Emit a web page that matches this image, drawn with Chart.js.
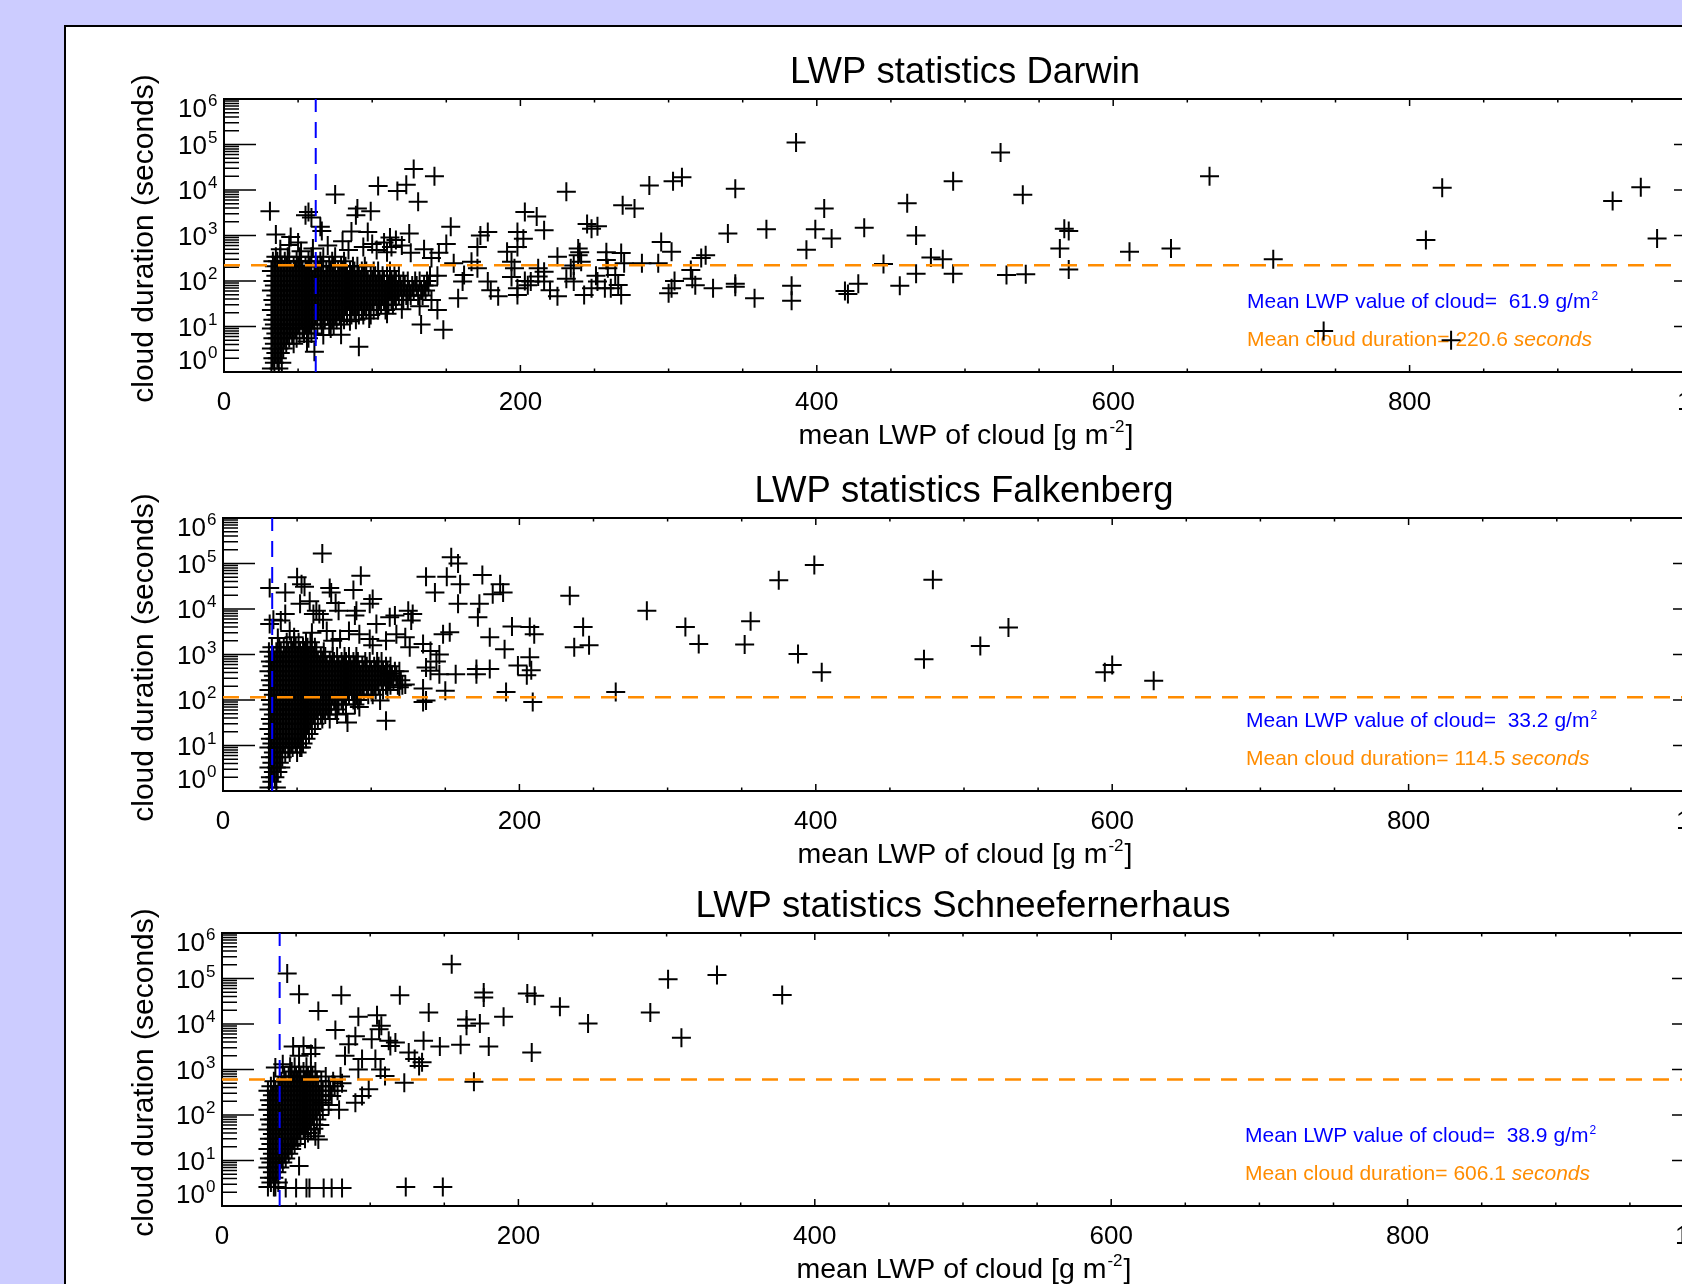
<!DOCTYPE html>
<html lang="en">
<head>
<meta charset="UTF-8">
<title>LWP statistics</title>
<script src="https://cdn.jsdelivr.net/npm/chart.js"></script>
<style>
  html, body { margin: 0; padding: 0; overflow: hidden; background: #ccccff; }
  body { width: 1682px; height: 1284px; position: relative; }
  #panel { position: absolute; left: 64px; top: 25px; width: 1800px; height: 1400px;
           background: #fff; border: 2px solid #000; box-sizing: border-box; }
  canvas { position: absolute; left: 0; }
</style>
</head>
<body>
<div id="panel"></div>
<canvas id="chart0" width="1800" height="480" style="top:0px"></canvas>
<canvas id="chart1" width="1800" height="480" style="top:419px"></canvas>
<canvas id="chart2" width="1800" height="480" style="top:834px"></canvas>

<script>
// station names and the means written in each panel
const stations = ['Darwin', 'Falkenberg', 'Schneefernerhaus'];
const meanLwp = [61.9, 33.2, 38.9];
const meanDuration = [220.6, 114.5, 606.1];

const lwpTicks = [0, 200, 400, 600, 800, 1000];
const durationExponents = [0, 1, 2, 3, 4, 5, 6];

// clouds: [mean LWP, durations in seconds read at that LWP] for the solid black cores
const darwinCore = [
  [32, [1.2, 3.3, 9, 23, 62, 165]], [33, [2, 5.5, 14, 38, 100, 270]],
  [34, [1.6, 4.2, 11, 30, 80, 210]], [35, [2.6, 7, 18, 48, 130, 340]],
  [36, [2, 5.5, 14, 38, 100, 270]], [37, [1.2, 3.3, 9, 23, 62, 165]],
  [38, [2.6, 7, 18, 48, 130, 340]], [39, [1.6, 4.2, 11, 30, 80, 210]],
  [40, [3.3, 9, 23, 62, 165]], [41, [5.5, 14, 38, 100, 270]],
  [42, [4.2, 11, 30, 80, 210]], [43, [7, 18, 48, 130, 340]],
  [44, [5.5, 14, 38, 100, 270]], [45, [9, 23, 62, 165]],
  [46, [7, 18, 48, 130]], [47, [4.2, 11, 30, 80, 210]],
  [48, [9, 23, 62, 165]], [49, [5.5, 14, 38, 100, 270]],
  [50, [11, 30, 80, 210]], [51, [7, 18, 48, 130, 340]],
  [52, [14, 38, 100, 270]], [53, [9, 23, 62, 165]],
  [54, [7, 18, 48, 130]], [55, [11, 30, 80, 210]],
  [56, [9, 23, 62, 165]], [57, [5.5, 14, 38, 100, 270]],
  [58, [11, 30, 80, 210]], [59, [7, 18, 48, 130, 340]],
  [60, [14, 38, 100]], [61, [9, 23, 62, 165]],
  [62, [18, 48, 130]], [63, [11, 30, 80, 210]],
  [64, [23, 62, 165]], [65, [14, 38, 100, 270]],
  [66, [11, 30, 80, 210]], [67, [18, 48, 130, 340]],
  [68, [14, 38, 100]], [69, [23, 62, 165]],
  [70, [18, 48, 130]], [71, [11, 30, 80, 210]],
  [72, [23, 62, 165]], [73, [14, 38, 100, 270]],
  [74, [30, 80, 210]], [75, [18, 48, 130, 340]],
  [76, [14, 38, 100]], [77, [23, 62, 165]],
  [78, [18, 48, 130]], [79, [11, 30, 80, 210]],
  [80, [23, 62, 165]], [81, [14, 38, 100, 270]],
  [82, [30, 80, 210]], [83, [18, 48, 130]],
  [84, [38, 100]], [85, [23, 62, 165]],
  [86, [18, 48, 130]], [87, [30, 80, 210]],
  [88, [23, 62, 165]], [89, [14, 38, 100]],
  [90, [30, 80, 210]], [91, [18, 48, 130]],
  [92, [38, 100]], [93, [23, 62, 165]],
  [94, [18, 48, 130]], [95, [30, 80, 210]],
  [96, [23, 62, 165]], [97, [38, 100]],
  [98, [30, 80]], [99, [18, 48, 130]],
  [100, [38, 100]], [101, [23, 62, 165]],
  [102, [48, 130]], [103, [30, 80]],
  [104, [23, 62, 165]], [105, [38, 100]],
  [106, [30, 80]], [107, [48, 130]],
  [108, [38, 100]], [109, [23, 62]],
  [110, [48, 130]], [111, [30, 80]],
  [112, [62, 165]], [113, [38, 100]],
  [114, [30, 80]], [115, [48, 130]],
  [116, [38, 100]], [117, [62]],
  [118, [48, 130]], [119, [80]],
  [120, [62]], [121, [38, 100]],
  [122, [80]], [123, [48]],
  [124, [38, 100]], [125, [62]],
  [126, [48]], [127, [80]],
  [128, [62]], [129, [100]],
  [130, [80]], [131, [48]],
  [132, [100]], [133, [62]],
  [134, [48]], [135, [80]],
  [136, [62]], [137, [100]],
  [138, [80]], [139, [130]],
  [140, [38]], [144, [130]]
];
// clouds: [mean LWP, duration in seconds] for the separate crosses
const darwinSpread = [
  [31, 3400], [55, 2800], [57, 3300], [59, 2500], [65, 1550], [66, 1250], [75, 8000], [104, 12300],
  [117, 9500], [123, 13000], [128, 29000], [142, 20000], [131, 5500], [90, 3900], [99, 3400], [89, 2800],
  [86, 1230], [35, 1050], [45, 930], [125, 1100], [153, 1550], [97, 1200], [108, 700], [113, 560],
  [110, 430], [116, 800], [112, 900], [140, 320], [155, 245], [173, 1000], [178, 1200], [171, 560],
  [198, 1200], [203, 3300], [211, 2600], [198, 560], [202, 850], [216, 1300], [231, 9100], [245, 1800],
  [248, 1400], [252, 1600], [269, 4600], [277, 3900], [287, 12600], [303, 15500], [309, 19000], [295, 720],
  [302, 440], [268, 410], [225, 340], [239, 370], [258, 290], [282, 245], [293, 245], [315, 175],
  [318, 81], [322, 320], [302, 69], [300, 54], [268, 49], [261, 69], [257, 69], [264, 135],
  [243, 49], [248, 69], [225, 46], [220, 63], [216, 160], [212, 125], [198, 49], [205, 81],
  [203, 100], [185, 46], [180, 63], [194, 123], [158, 42], [161, 98], [148, 8.5], [133, 11],
  [144, 23], [91, 3.6], [79, 6.6], [72, 9], [61, 2.8], [167, 265], [171, 190], [162, 135],
  [178, 97], [191, 440], [194, 265], [196, 190], [207, 97], [212, 190], [216, 97], [198, 69],
  [234, 190], [236, 97], [241, 265], [252, 97], [259, 190], [266, 82], [270, 245], [239, 520],
  [70, 600], [80, 750], [84, 480], [94, 560], [100, 650], [103, 480], [120, 600], [126, 420],
  [135, 500], [145, 420], [150, 650], [38, 500], [44, 620], [50, 700], [60, 520], [52, 450],
  [56, 4.7], [67, 6.5], [74, 11], [85, 13], [98, 15], [110, 19], [120, 24], [132, 28],
  [325, 370], [316, 112], [330, 69], [345, 87], [345, 75], [358, 42], [383, 79], [383, 37],
  [419, 60], [421, 52], [428, 87], [456, 79], [467, 145], [477, 330], [485, 300], [492, 145],
  [445, 235], [528, 135], [541, 140], [564, 520], [567, 1400], [570, 1260], [570, 180], [231, 112],
  [251, 130], [258, 430], [240, 430], [236, 220], [304, 100], [366, 1380], [340, 1100], [345, 10600],
  [386, 110000], [524, 67000], [492, 15500], [539, 7900], [461, 5100], [405, 3900], [432, 1480], [399, 1380],
  [410, 860], [467, 1000], [393, 485], [611, 437], [639, 520], [665, 20000], [708, 302], [742, 8],
  [811, 800], [822, 11200], [828, 5], [937, 5700], [956, 11500], [967, 860]
];

const falkenbergCore = [
  [31, [1.2, 3.3, 9, 23, 62, 165, 430, 1150]], [32, [2, 5.5, 14, 38, 100, 270, 700]],
  [33, [1.6, 4.2, 11, 30, 80, 210, 550, 1450]], [34, [2.6, 7, 18, 48, 130, 340, 900]],
  [35, [2, 5.5, 14, 38, 100, 270, 700]], [36, [1.2, 3.3, 9, 23, 62, 165, 430, 1150]],
  [37, [2.6, 7, 18, 48, 130, 340, 900]], [38, [4.2, 11, 30, 80, 210, 550, 1450]],
  [39, [3.3, 9, 23, 62, 165, 430, 1150]], [40, [5.5, 14, 38, 100, 270, 700]],
  [41, [11, 30, 80, 210, 550, 1450]], [42, [7, 18, 48, 130, 340, 900]],
  [43, [14, 38, 100, 270, 700, 1850]], [44, [9, 23, 62, 165, 430, 1150]],
  [45, [7, 18, 48, 130, 340, 900]], [46, [11, 30, 80, 210, 550, 1450]],
  [47, [9, 23, 62, 165, 430, 1150]], [48, [14, 38, 100, 270, 700, 1850]],
  [49, [11, 30, 80, 210, 550, 1450]], [50, [7, 18, 48, 130, 340, 900]],
  [51, [14, 38, 100, 270, 700, 1850]], [52, [9, 23, 62, 165, 430, 1150]],
  [53, [9, 18, 48, 130, 340, 900]], [54, [11, 30, 80, 210, 550, 1450]],
  [55, [23, 62, 165, 430, 1150]], [56, [14, 38, 100, 270, 700, 1850]],
  [57, [30, 80, 210, 550, 1450]], [58, [18, 48, 130, 340, 900]],
  [59, [38, 100, 270, 700, 1850]], [60, [23, 62, 165, 430, 1150]],
  [61, [48, 130, 340, 900]], [62, [30, 80, 210, 550, 1450]],
  [63, [62, 165, 430, 1150]], [64, [38, 100, 270, 700]],
  [65, [80, 210, 550]], [66, [48, 130, 340, 900]],
  [67, [38, 100, 270, 700]], [68, [62, 165, 430, 1150]],
  [69, [48, 130, 340, 900]], [70, [80, 210, 550]],
  [71, [62, 165, 430]], [72, [38, 100, 270, 700]],
  [73, [80, 210, 550]], [74, [130, 340, 900]],
  [75, [100, 270, 700]], [76, [62, 165, 430]],
  [77, [48, 130, 340, 900]], [78, [80, 210, 550]],
  [79, [165, 430]], [80, [100, 270, 700]],
  [81, [80, 210, 550]], [82, [130, 340, 900]],
  [83, [100, 270, 700]], [84, [165, 430]],
  [85, [130, 340, 900]], [86, [210, 550]],
  [87, [165, 430]], [88, [100, 270, 700]],
  [89, [80, 210, 550]], [90, [130, 340, 900]],
  [91, [100, 270, 700]], [92, [165, 430]],
  [93, [130, 340]], [94, [210, 550]],
  [95, [165, 430]], [96, [270, 700]],
  [97, [210, 550]], [98, [130, 340]],
  [99, [270, 700]], [100, [165, 430]],
  [101, [130, 340]], [102, [210, 550]],
  [103, [165, 430]], [104, [270, 700]],
  [105, [210, 550]], [106, [340]],
  [107, [270, 700]], [108, [165, 430]],
  [109, [340]], [110, [210, 550]],
  [111, [165, 430]], [112, [270]],
  [113, [210, 550]], [114, [340]],
  [115, [270]], [116, [430]],
  [117, [340]], [118, [210]],
  [119, [430]], [120, [270]], [121, [210]]
];
const falkenbergSpread = [
  [67, 166000], [50, 50000], [53, 35000], [31.5, 29000], [42, 23000], [55, 31000], [72, 29000], [73, 23000],
  [93, 54000], [88, 26000], [101, 16600], [99, 13000], [76, 13500], [78, 9100], [58.5, 14800], [63, 9100],
  [65, 7800], [67.5, 5800], [42, 7800], [39, 5600], [34, 5800], [31.5, 4700], [90, 9100], [89, 7200],
  [92, 2800], [103.5, 4700], [112.5, 6600], [116, 7200], [125, 9100], [128, 7800], [127, 5600], [137, 51000],
  [151, 51000], [154, 138000], [158.6, 100000], [143, 23000], [160, 35000], [158.6, 13000], [175, 56000], [173, 13000],
  [172, 6600], [187, 35000], [189, 23000], [182, 21000], [234, 19500], [286, 9100], [312, 4000], [321, 1700],
  [243, 4000], [247, 1600], [237, 1450], [195, 4100], [207, 4000], [210, 2800], [190, 1300], [180, 2400],
  [207, 870], [199, 575], [205, 350], [208, 450], [171, 480], [171, 370], [180, 480], [157, 370],
  [150, 160], [146, 370], [191, 150], [209, 90], [265, 150], [135, 90], [137, 98], [135, 180],
  [110, 35], [84, 32], [117, 2800], [123, 2400], [126, 1450], [135, 1700], [140, 1200], [146, 1000],
  [148.5, 2800], [153, 3100], [144, 700], [137, 520], [140, 440], [119, 190], [123, 220], [112.5, 380],
  [106, 98], [92, 70], [83, 50], [52, 13000], [61, 7800], [74, 2000], [79, 2200], [85, 3300],
  [99, 2200], [101, 1600], [45, 3300], [48, 2400], [37, 2300], [60, 3000], [110, 2000], [70, 3300],
  [356, 5400], [352, 1660], [375, 42600], [399, 93000], [388, 1020], [404, 405], [479, 44000], [473, 790],
  [511, 1540], [530, 3900], [595, 405], [600, 590], [628, 265]
];

const schneeCore = [
  [31, [2.6, 7, 18, 48, 130, 340]], [32, [4.2, 11, 30, 80, 210]],
  [33, [3.3, 9, 23, 62, 165, 430]], [34, [5.5, 14, 38, 100, 270]],
  [35, [2.6, 4.2, 11, 30, 80, 210, 550]], [36, [2.6, 7, 18, 48, 130, 340]],
  [37, [5.5, 14, 38, 100, 270]], [38, [3.3, 9, 23, 62, 165, 430]],
  [39, [7, 18, 48, 130, 340]], [40, [11, 30, 80, 210, 550]],
  [41, [9, 23, 62, 165, 430]], [42, [14, 38, 100, 270, 700]],
  [43, [11, 30, 80, 210, 550]], [44, [18, 48, 130, 340]],
  [45, [14, 38, 100, 270, 700]], [46, [23, 62, 165, 430, 1150]],
  [47, [18, 48, 130, 340, 900]], [48, [30, 80, 210, 550]],
  [49, [23, 62, 165, 430, 1150]], [50, [38, 100, 270, 700]],
  [51, [30, 80, 210, 550]], [52, [48, 130, 340, 900]],
  [53, [38, 100, 270, 700]], [54, [62, 165, 430]],
  [55, [48, 130, 340, 900]], [56, [30, 80, 210, 550]],
  [57, [62, 165, 430, 1150]], [58, [100, 270, 700]],
  [59, [80, 210, 550]], [60, [48, 130, 340, 900]],
  [61, [100, 270, 700]], [62, [62, 165, 430]],
  [63, [130, 340, 900]], [64, [80, 210, 550]],
  [65, [165, 430]], [66, [100, 270]],
  [67, [210, 550]], [68, [130, 340]],
  [70, [270, 700]], [72, [165, 430]], [73, [340]],
  [75, [550]], [76, [430]], [78, [340]], [80, [700]]
];
const schneeSpread = [
  [44, 129000], [52, 45000], [80.5, 43000], [65, 19400], [120, 43000], [92, 14500], [104.6, 15500], [107.5, 9100],
  [76.5, 7400], [139.5, 18000], [155, 205000], [176.6, 49000], [176.6, 38000], [165, 12600], [165, 9100], [174, 10200],
  [190, 14500], [206, 47000], [211, 42000], [228, 24000], [247, 10200], [289, 17800], [301, 96000], [310, 5000],
  [209, 2350], [180, 3200], [161, 3500], [147, 3200], [136, 4300], [123, 510], [170, 535], [334, 120000],
  [378, 43600], [43, 2.5], [50, 2.5], [57, 2.5], [59, 2.5], [68.6, 2.5], [74, 2.5], [81, 2.5],
  [124, 2.6], [149, 2.6], [52, 7.6], [63, 34], [65, 29], [47, 21], [126, 2350], [130, 1700],
  [133, 1200], [135, 1450], [112.5, 4300], [113.6, 3300], [90, 5400], [85.5, 3600], [83, 2000], [94.5, 1700],
  [101, 4600], [103.5, 1700], [107, 1000], [110, 720], [106, 7700], [117, 3900], [92, 1000], [99, 370],
  [94.5, 260], [90, 185], [79, 130], [81, 500], [74, 260], [67.5, 185], [48, 3200], [55, 3300],
  [63, 3000], [60, 2200], [52, 2000], [36, 1100], [41, 1300], [58, 40], [62, 50], [66, 60]
];

const cores = [darwinCore, falkenbergCore, schneeCore];
const spreads = [darwinSpread, falkenbergSpread, schneeSpread];

const FONT = '"Liberation Sans", Arial, Helvetica, sans-serif';
const BLUE = '#0000ff';
const ORANGE = '#ff8c00';
const plotLefts = [224, 223, 222];

// IDL style frame: box, inward ticks on all sides, labels, titles, mean values
const framePlugin = {
    id: 'idlFrame',
    beforeDatasetsDraw(chart, args, opts) {
        const { ctx, chartArea: a, scales: { x, y } } = chart;
        ctx.save();
        ctx.strokeStyle = '#000';
        ctx.fillStyle = '#000';

        ctx.lineWidth = 1.5;
        ctx.beginPath();
        durationExponents.forEach(k => {
            const py = y.getPixelForValue(Math.pow(10, k));
            ctx.moveTo(a.left, py); ctx.lineTo(a.left + 32, py);
            ctx.moveTo(a.right, py); ctx.lineTo(a.right - 32, py);
            if (k < 6) {
                for (let m = 2; m <= 9; m++) {
                    const pm = y.getPixelForValue(m * Math.pow(10, k));
                    ctx.moveTo(a.left, pm); ctx.lineTo(a.left + 15, pm);
                    ctx.moveTo(a.right, pm); ctx.lineTo(a.right - 15, pm);
                }
            }
        });
        for (let v = 0; v <= 1000; v += 50) {
            const px = x.getPixelForValue(v);
            const len = v % 200 === 0 ? 7 : 3.5;
            ctx.moveTo(px, a.bottom); ctx.lineTo(px, a.bottom - len);
            ctx.moveTo(px, a.top); ctx.lineTo(px, a.top + len);
        }
        ctx.stroke();
        ctx.lineWidth = 2;
        ctx.strokeRect(a.left, a.top, a.right - a.left, a.bottom - a.top);

        // x tick labels
        ctx.font = `26px ${FONT}`;
        ctx.textAlign = 'center';
        ctx.textBaseline = 'alphabetic';
        lwpTicks.forEach(v => ctx.fillText(String(v), x.getPixelForValue(v), a.bottom + 38));

        // y tick labels 10^k
        durationExponents.forEach(k => {
            let py = y.getPixelForValue(Math.pow(10, k));
            if (k === 6) py += 9;
            if (k === 0) py -= 12;
            ctx.font = `26px ${FONT}`;
            ctx.textAlign = 'right';
            ctx.fillText('10', a.left - 17, py + 9);
            ctx.font = `17px ${FONT}`;
            ctx.textAlign = 'left';
            ctx.fillText(String(k), a.left - 16, py - 2);
        });

        const cx = (a.left + a.right) / 2;
        ctx.textAlign = 'center';
        ctx.font = `36.5px ${FONT}`;
        ctx.fillText(opts.title, cx, a.top - 16);

        // x axis title with superscript
        const part1 = 'mean LWP of cloud [g m', sup = '-2', part3 = ']';
        ctx.font = `28.5px ${FONT}`;
        const w1 = ctx.measureText(part1).width, w3 = ctx.measureText(part3).width;
        ctx.font = `17px ${FONT}`;
        const w2 = ctx.measureText(sup).width;
        let sx = cx - (w1 + w2 + w3) / 2;
        const base = a.bottom + 72;
        ctx.textAlign = 'left';
        ctx.font = `28.5px ${FONT}`;
        ctx.fillText(part1, sx, base);
        ctx.font = `17px ${FONT}`;
        ctx.fillText(sup, sx + w1 + 1, base - 12);
        ctx.font = `28.5px ${FONT}`;
        ctx.fillText(part3, sx + w1 + w2 + 2, base);

        // y axis title
        ctx.save();
        ctx.translate(153, (a.top + a.bottom) / 2 + 3);
        ctx.rotate(-Math.PI / 2);
        ctx.textAlign = 'center';
        ctx.font = `30px ${FONT}`;
        ctx.fillText('cloud duration (seconds)', 0, 0);
        ctx.restore();

        // mean values
        const ax = a.left + 1023;
        ctx.textAlign = 'left';
        ctx.font = `21px ${FONT}`;
        ctx.fillStyle = BLUE;
        const s1 = `Mean LWP value of cloud=  ${opts.lwp.toFixed(1)} g/m`;
        ctx.fillText(s1, ax, a.bottom - 64);
        const ws1 = ctx.measureText(s1).width;
        ctx.font = `12px ${FONT}`;
        ctx.fillText('2', ax + ws1 + 1, a.bottom - 72);
        ctx.fillStyle = ORANGE;
        ctx.font = `21px ${FONT}`;
        const s2 = `Mean cloud duration= ${opts.dur.toFixed(1)} `;
        ctx.fillText(s2, ax, a.bottom - 26);
        const ws2 = ctx.measureText(s2).width;
        ctx.font = `italic 21px ${FONT}`;
        ctx.fillText('seconds', ax + ws2, a.bottom - 26);

        ctx.restore();
    }
};

stations.forEach((name, i) => {
    const points = cores[i].flatMap(([lwp, durs]) => durs.map(d => ({ x: lwp, y: d })))
        .concat(spreads[i].map(([lwp, d]) => ({ x: lwp, y: d })));

    new Chart(document.getElementById('chart' + i), {
        type: 'scatter',
        data: {
            datasets: [
                {
                    type: 'line',
                    data: [{ x: meanLwp[i], y: 1 }, { x: meanLwp[i], y: 1e6 }],
                    borderColor: BLUE, borderWidth: 2, borderDash: [16, 10],
                    pointRadius: 0, order: 0, clip: 0
                },
                {
                    type: 'line',
                    data: [{ x: 0, y: meanDuration[i] }, { x: 1000, y: meanDuration[i] }],
                    borderColor: ORANGE, borderWidth: 2.5, borderDash: [16, 11],
                    pointRadius: 0, order: 0, clip: 0
                },
                {
                    data: points,
                    pointStyle: 'cross',
                    pointRadius: 9.5,
                    borderWidth: 2,
                    pointBorderWidth: 2,
                    borderColor: '#000',
                    backgroundColor: '#000',
                    order: 1,
                    clip: 0
                }
            ]
        },
        options: {
            responsive: false,
            animation: false,
            devicePixelRatio: 1,
            events: [],
            layout: { padding: { left: plotLefts[i], right: 1800 - plotLefts[i] - 1482, top: 99, bottom: 108 } },
            plugins: {
                legend: { display: false },
                tooltip: { enabled: false },
                idlFrame: { title: 'LWP statistics ' + name, lwp: meanLwp[i], dur: meanDuration[i] }
            },
            scales: {
                x: { type: 'linear', min: 0, max: 1000, display: false },
                y: { type: 'logarithmic', min: 1, max: 1e6, display: false }
            }
        },
        plugins: [framePlugin]
    });
});
</script>
</body>
</html>
